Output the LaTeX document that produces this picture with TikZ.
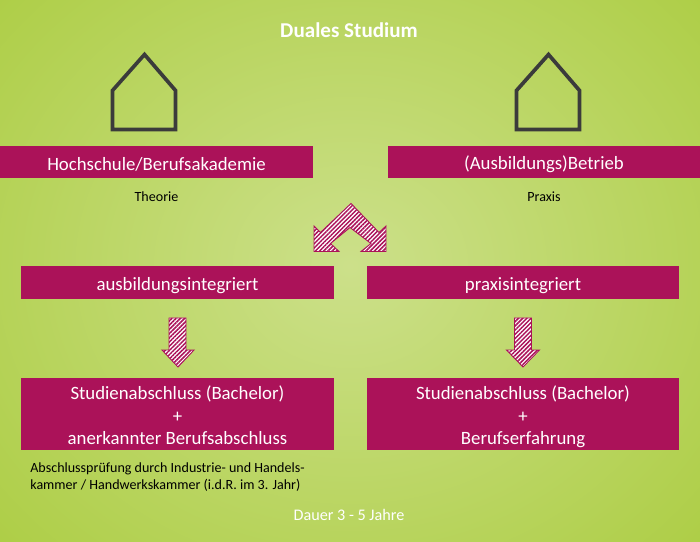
\documentclass[tikz,border=0pt]{standalone}
\usepackage{fontspec}
\setmainfont{Carlito}
\usepackage{xcolor}
\usepackage{tikz}
\usetikzlibrary{patterns.meta}
\definecolor{berry}{HTML}{AB1259}
\definecolor{wall}{HTML}{3B3B3B}
\definecolor{leaf}{HTML}{A9CB3C}
\definecolor{leaflight}{HTML}{CCE08A}
\tikzset{
  stage/.style={fill=berry, text=white, font=\fontsize{10.7}{12.8}\selectfont, align=center, inner sep=0pt,
    execute at begin node={\rule{0pt}{10.5pt}}},
  degree/.style={stage, minimum height=1.44cm},
  house/.style={draw=wall, line width=2.1pt, line join=miter},
  hatched/.style={draw=berry, line width=0.5pt, preaction={fill=white},
    pattern={Lines[angle=45,distance=1.7pt,line width=0.85pt]}, pattern color=berry},
  note/.style={font=\fontsize{8}{9.85}\selectfont, text=black, align=left, inner sep=0pt},
}
\begin{document}
\begin{tikzpicture}
  \useasboundingbox (0,0) rectangle (14.00,10.82);
  \shade[inner color=leaflight, outer color=leaf, shading=radial] (-4.00,-4.00) rectangle (18.00,15.00);
  \node[font=\fontsize{12}{14}\selectfont\bfseries, text=white, inner sep=0pt] (title) at (6.98,10.22) {Duales Studium};
  % --- Row 1: places of learning ---
  \draw[house] (2.25,8.23) -- (2.25,9.01) -- (2.89,9.73) -- (3.51,9.01) -- (3.51,8.23) -- cycle;
  \draw[house] (10.33,8.23) -- (10.33,9.01) -- (10.97,9.73) -- (11.59,9.01) -- (11.59,8.23) -- cycle;
  \node[stage, minimum width=6.26cm, minimum height=0.64cm] (school) at (3.13,7.58) {Hochschule/Berufsakademie};
  \node[stage, minimum width=6.24cm, minimum height=0.64cm] (company) at (10.88,7.58) {(Ausbildungs)Betrieb};
  \node[note] (theory) at (3.13,6.88) {Theorie};
  \node[note] (practice) at (10.88,6.88) {Praxis};
  % --- Double arrow ---
  \draw[hatched] (7.02,6.75) -- (7.58,6.17) -- (7.72,6.30) -- (7.72,5.79)
    -- (7.22,5.79) -- (7.42,5.95) -- (7.00,6.27) -- (6.61,5.95)
    -- (6.78,5.79) -- (6.28,5.79) -- (6.28,6.30) -- (6.41,6.17) -- cycle;
  % --- Row 2: variants ---
  \node[stage, minimum width=6.26cm, minimum height=0.66cm] (integrated) at (3.55,5.17) {ausbildungsintegriert};
  \node[stage, minimum width=6.24cm, minimum height=0.66cm] (workplace) at (10.46,5.17) {praxisintegriert};
  \draw[hatched] (3.38,4.46) -- (3.72,4.46) -- (3.72,3.82) -- (3.88,3.82) -- (3.56,3.48) -- (3.24,3.82) -- (3.38,3.82) -- cycle;
  \draw[hatched] (10.29,4.46) -- (10.63,4.46) -- (10.63,3.82) -- (10.79,3.82) -- (10.46,3.48) -- (10.13,3.82) -- (10.29,3.82) -- cycle;
  % --- Row 3: degrees ---
  \node[degree, minimum width=6.26cm] (degreeleft) at (3.55,2.54) {\rule{0pt}{11.5pt}Studienabschluss (Bachelor)\\+\\anerkannter Berufsabschluss\vphantom{g}};
  \node[degree, minimum width=6.24cm] (degreeright) at (10.46,2.54) {\rule{0pt}{11.5pt}Studienabschluss (Bachelor)\\+\\Berufserfahrung};
  \node[note, anchor=north west] (exam) at (0.60,1.57) {Abschlussprüfung durch Industrie- und Handels-\\kammer / Handwerkskammer (i.d.R. im 3. Jahr)};
  \node[font=\fontsize{9.2}{11}\selectfont, text=white, inner sep=0pt] (duration) at (6.98,0.52) {Dauer 3 - 5 Jahre};
\end{tikzpicture}
\end{document}
